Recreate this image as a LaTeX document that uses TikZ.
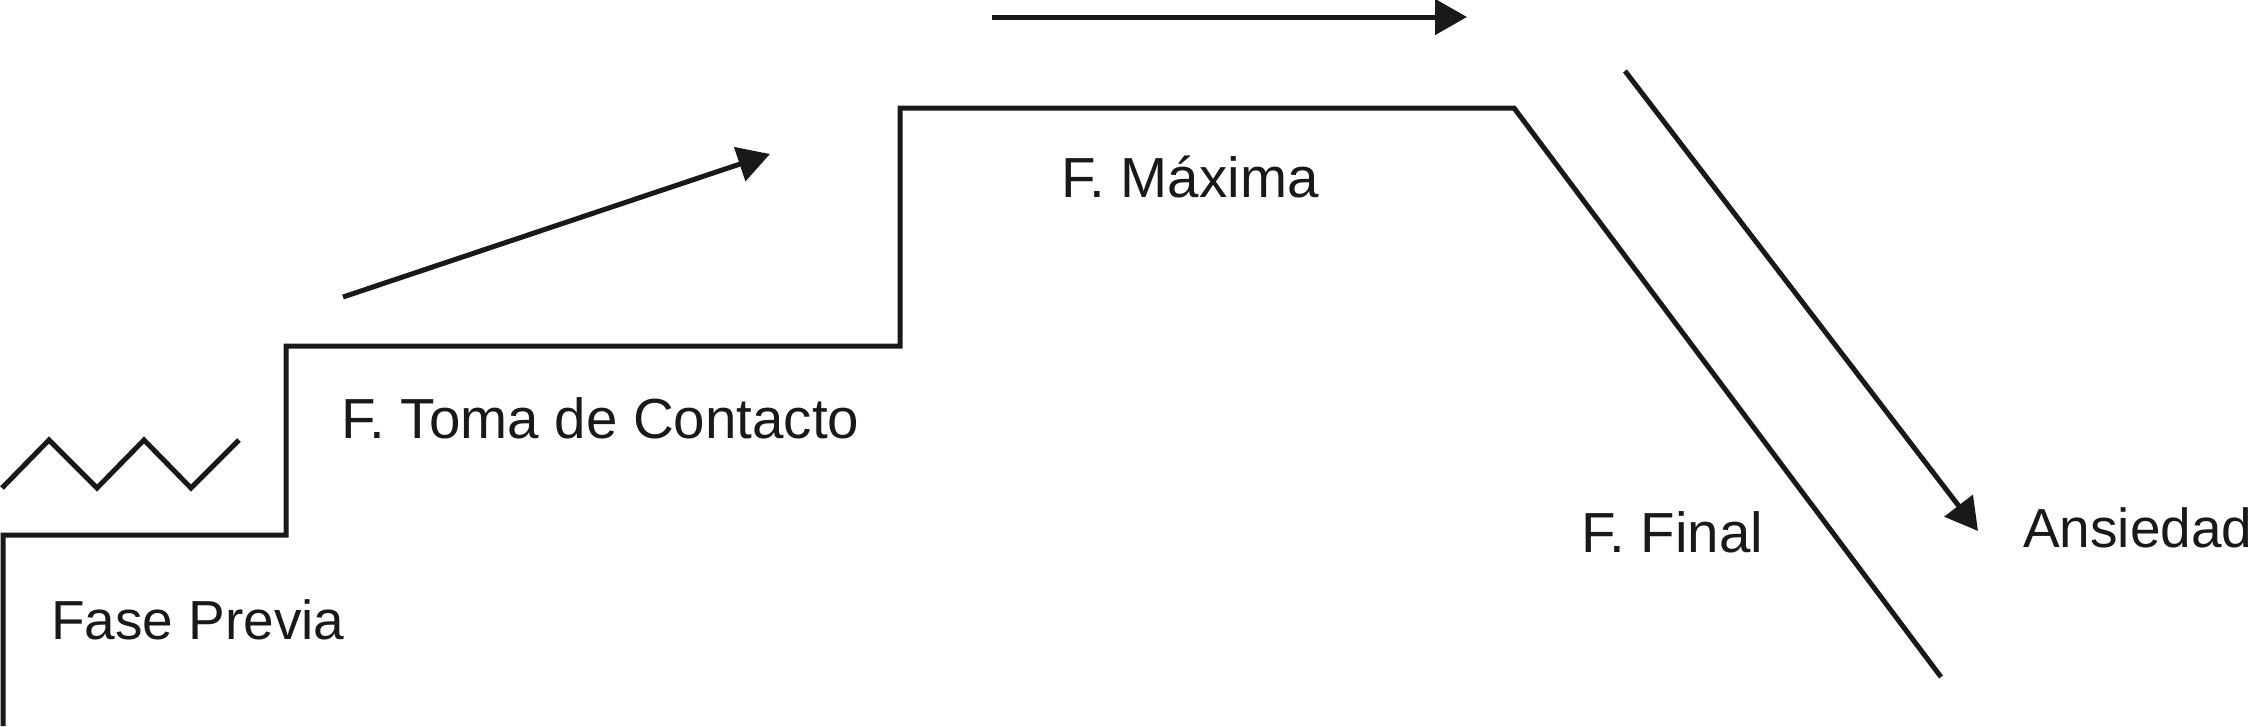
\documentclass[tikz,border=0pt]{standalone}
\usepackage{fontspec}
\setmainfont{Liberation Sans}
\usetikzlibrary{arrows.meta}
\tikzset{
  stroke/.style={line width=5pt, line join=miter, black!90},
  arr/.style={line width=5pt, black!90, -{Triangle[length=32pt,width=35pt]}},
  lbl/.style={anchor=base west, inner sep=0pt, font=\fontsize{56.5pt}{62pt}\selectfont, text=black!90},
  lblsmall/.style={lbl, font=\fontsize{55pt}{60pt}\selectfont}
}
\begin{document}
\begin{tikzpicture}[x=1pt,y=-1pt]
\useasboundingbox (0,0) rectangle (2255,726);
% step outline
\coordinate (b0) at (3,726);
\coordinate (s1) at (3,535);
\coordinate (s2) at (286,535);
\coordinate (s3) at (286,346);
\coordinate (s4) at (900,346);
\coordinate (s5) at (900,108);
\coordinate (s6) at (1514,108);
\coordinate (s7) at (1941,677);
\draw[stroke] (b0) -- (s1) -- (s2) -- (s3) -- (s4) -- (s5) -- (s6) -- (s7);
% zigzag
\coordinate (z0) at (2,488);
\coordinate (z1) at (49,440);
\coordinate (z2) at (97,488);
\coordinate (z3) at (144,440);
\coordinate (z4) at (191,488);
\coordinate (z5) at (239,440);
\draw[stroke] (z0) -- (z1) -- (z2) -- (z3) -- (z4) -- (z5);
% arrows
\coordinate (a1s) at (343,297);
\coordinate (a1e) at (770,154);
\draw[arr] (a1s) -- (a1e);
\coordinate (a2s) at (992,17);
\coordinate (a2e) at (1467,17);
\draw[arr] (a2s) -- (a2e);
\coordinate (a3s) at (1625,71);
\coordinate (a3e) at (1978,531);
\draw[arr] (a3s) -- (a3e);
% labels
\node[lblsmall] (fp) at (51,639) {Fase Previa};
\node[lbl] (ft) at (341,438) {F. Toma de Contacto};
\node[lbl] (fm) at (1061,197) {F. Máxima};
\node[lbl] (ff) at (1581,552) {F. Final};
\node[lblsmall] (an) at (2023,547) {Ansiedad};
\end{tikzpicture}
\end{document}
